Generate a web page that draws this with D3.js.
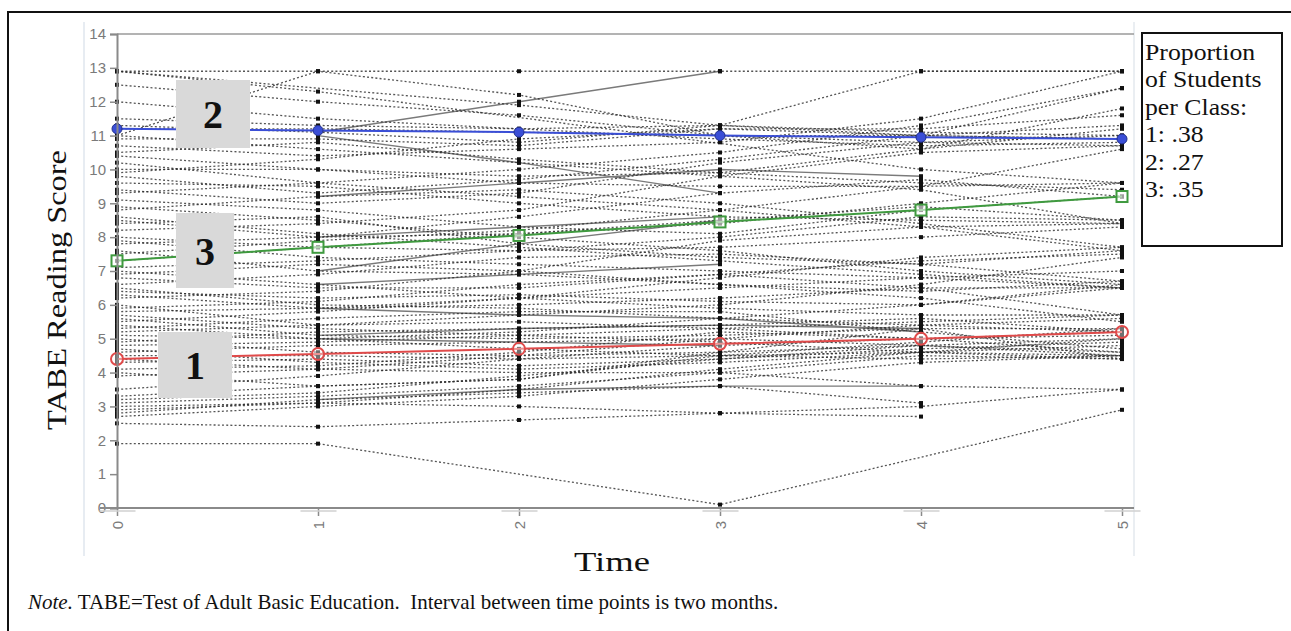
<!DOCTYPE html>
<html><head><meta charset="utf-8">
<script src="https://cdnjs.cloudflare.com/ajax/libs/d3/7.8.5/d3.min.js"></script>
<style>body{margin:0;background:#fff;} svg{display:block;} text{white-space:pre;}</style>
</head><body>
<svg id="chart" width="1291" height="631"></svg>
<script>
// ---- data ----
const timePoints = [0, 1, 2, 3, 4, 5];
const yTicks = [0,1,2,3,4,5,6,7,8,9,10,11,12,13,14];
// individual student trajectories (dotted), null = missing wave
const studentsDotted = [
  [12.9,12.9,12.9,12.9,12.9,12.9],
  [12.9,null,11.9,11.3,11.0,10.9],
  [11.0,12.9,12.2,11.0,10.6,11.2],
  [11.2,11.2,11.1,11.0,11.0,10.9],
  [11.3,11.1,10.8,11.3,12.9,12.9],
  [10.9,10.9,10.7,11.2,11.0,12.4],
  [10.4,10.0,9.8,9.9,10.6,11.8],
  [10.0,10.0,9.6,9.5,9.5,9.6],
  [9.8,9.3,9.7,10.3,11.0,11.3],
  [9.6,9.5,9.0,8.6,8.5,8.4],
  [9.1,8.8,8.3,8.1,8.8,9.2],
  [8.8,9.2,9.4,9.0,8.4,7.7],
  [8.5,8.0,8.1,8.5,8.9,8.5],
  [8.4,8.6,7.8,7.4,7.2,6.7],
  [8.0,7.7,7.6,7.7,8.0,8.3],
  [7.9,7.4,7.2,7.0,6.8,6.5],
  [7.6,7.0,6.9,6.6,6.4,6.7],
  [7.3,7.7,8.1,8.4,9.0,9.6],
  [7.0,6.6,6.2,5.9,5.7,5.7],
  [6.8,6.5,6.5,6.9,7.3,7.5],
  [6.5,6.0,5.9,5.6,5.4,5.2],
  [6.2,6.4,7.0,7.9,8.3,8.4],
  [6.0,5.4,5.5,5.3,5.0,4.6],
  [5.8,5.9,6.0,6.2,6.5,6.5],
  [5.6,5.1,5.0,5.1,5.3,5.3],
  [5.4,5.0,4.7,4.5,4.4,4.5],
  [5.2,5.4,5.7,6.0,6.6,7.4],
  [5.0,4.6,4.5,4.6,4.8,5.0],
  [4.8,4.9,5.1,5.3,5.5,5.7],
  [4.5,4.5,4.4,4.5,4.6,4.5],
  [4.4,4.1,4.0,4.0,3.6,3.5],
  [4.1,4.2,4.6,5.2,5.0,5.1],
  [4.0,3.6,3.8,4.5,4.9,5.3],
  [3.3,3.6,3.8,4.6,5.3,4.4],
  [3.0,3.1,3.0,2.8,2.7,null],
  [2.8,3.2,3.4,3.6,3.1,null],
  [2.5,2.4,2.6,2.8,3.0,3.5],
  [1.9,1.9,null,0.1,null,2.9],
  [2.7,3.0,3.3,3.8,4.3,4.5],
  [12.9,12.3,null,null,10.0,9.6],
  [11.0,10.6,10.2,9.8,9.4,8.4],
  [10.7,10.4,10.6,10.8,11.5,12.9],
  [9.4,9.0,9.3,10.2,10.8,11.0],
  [8.2,8.4,8.8,9.8,10.5,10.7],
  [7.8,8.0,8.6,9.3,9.7,9.2],
  [7.1,7.3,7.6,8.0,8.6,8.5],
  [6.6,6.9,7.4,7.5,7.2,7.6],
  [6.4,6.2,6.3,6.1,6.0,6.6],
  [5.9,6.1,6.6,6.9,6.5,5.7],
  [5.3,5.6,5.8,5.8,5.2,4.7],
  [4.9,5.2,5.3,5.4,5.6,5.2],
  [4.6,4.8,4.9,5.0,4.8,4.6],
  [4.3,4.4,4.2,4.4,4.7,4.9],
  [3.5,3.9,4.4,4.8,5.0,5.2],
  [3.1,3.3,3.6,4.0,4.5,4.4],
  [12.0,11.5,11.2,10.9,10.7,10.8],
  [11.5,11.3,11.2,11.3,11.1,11.0],
  [9.9,10.3,10.9,11.2,11.2,11.6],
  [12.5,12.0,11.6,11.0,10.8,10.7],
  [10.2,9.6,9.2,8.8,8.3,7.6],
  [9.3,9.6,10.0,10.5,11.3,12.4],
  [8.6,8.1,7.7,7.3,6.9,6.5],
  [7.5,7.9,8.2,8.8,9.5,10.6],
  [6.9,7.2,7.0,6.6,6.2,5.5],
  [6.3,5.9,6.2,6.8,7.4,7.7],
  [5.7,5.3,5.1,4.9,4.6,4.4],
  [5.5,5.8,6.2,6.5,6.8,7.0],
  [5.1,5.0,5.2,5.6,6.0,6.5],
  [4.7,4.3,4.1,4.3,4.6,4.8],
  [3.9,4.1,4.5,5.0,5.4,5.6],
  [3.2,3.4,3.9,4.4,4.8,4.5],
  [2.9,3.1,3.5,4.1,4.6,5.0],
  [8.9,8.5,8.0,7.6,7.0,6.6],
  [10.5,10.8,10.3,9.9,9.6,9.4]
];
// individual trajectories drawn solid
const studentsSolid = [
  [null,11.1,12.0,12.9,null,null],
  [null,11.0,10.2,9.3,null,null],
  [null,9.2,9.6,10.0,9.8,null],
  [null,7.0,7.8,8.5,null,null],
  [null,6.6,6.9,7.2,null,null],
  [null,5.1,5.3,5.4,5.3,null],
  [null,5.0,4.9,4.8,null,null],
  [null,3.2,3.5,3.6,3.6,null],
  [null,5.9,5.7,5.6,5.2,null],
  [null,8.0,8.3,8.6,null,null]
];
// class mean trajectories
const class1Means = [4.4, 4.55, 4.7, 4.85, 5.0, 5.2];
const class2Means = [11.2, 11.15, 11.1, 11.0, 10.95, 10.9];
const class3Means = [7.3, 7.7, 8.05, 8.45, 8.8, 9.2];
const classLabels = ["1", "2", "3"];
const legendLines = ["Proportion", "of Students", "per Class:", "1: .38", "2: .27", "3: .35"];
const xTitle = "Time";
const yTitle = "TABE Reading Score";
const noteLabel = "Note.";
const noteText = " TABE=Test of Adult Basic Education.  Interval between time points is two months.";

// ---- drawing ----
const svg = d3.select("#chart");
const x = d3.scaleLinear().domain([0, 5]).range([117, 1122]);
const y = d3.scaleLinear().domain([0, 14]).range([508, 34]);
const serif = "'Liberation Serif','Times New Roman',serif";
const sans = "'Liberation Sans',Arial,sans-serif";

// outer frame
svg.append("rect").attr("x", 8).attr("y", 12).attr("width", 1300).attr("height", 700)
  .attr("fill", "none").attr("stroke", "#111").attr("stroke-width", 2);

// faint panel lines
svg.append("line").attr("x1", 84).attr("x2", 84).attr("y1", 22).attr("y2", 556)
  .attr("stroke", "#dfe6ee").attr("stroke-width", 1.5);
svg.append("line").attr("x1", 1134).attr("x2", 1134).attr("y1", 22).attr("y2", 556)
  .attr("stroke", "#e3e8ee").attr("stroke-width", 1.5);
// top border of plot
svg.append("line").attr("x1", 117).attr("x2", 1134).attr("y1", y(14)).attr("y2", y(14))
  .attr("stroke", "#9a9a9a").attr("stroke-width", 1.5);

const line = d3.line().x(d => x(d.t)).y(d => y(d.v));
const toPts = arr => arr.map((v, i) => ({t: timePoints[i], v})).filter(d => d.v !== null);

const gInd = svg.append("g");
gInd.selectAll("path.solid").data(studentsSolid).join("path")
  .attr("class", "solid").attr("d", d => line(toPts(d)))
  .attr("fill", "none").attr("stroke", "#7a7a7a").attr("stroke-width", 1.4);
gInd.selectAll("path.dot").data(studentsDotted).join("path")
  .attr("class", "dot").attr("d", d => line(toPts(d)))
  .attr("fill", "none").attr("stroke", "#2a2a2a").attr("stroke-width", 1.3)
  .attr("stroke-dasharray", "2,2.2").attr("opacity", 0.8);
const allPts = studentsDotted.concat(studentsSolid).flatMap(toPts);
gInd.selectAll("rect.pt").data(allPts).join("rect")
  .attr("class", "pt").attr("x", d => x(d.t) - 2).attr("y", d => y(d.v) - 2)
  .attr("width", 4).attr("height", 4).attr("fill", "#111");

// class label boxes
const labelBoxes = [
  {lab: classLabels[1], x0: 176, x1: 250, y0: 80, y1: 148},
  {lab: classLabels[2], x0: 176, x1: 234, y0: 213, y1: 288},
  {lab: classLabels[0], x0: 158, x1: 232, y0: 332, y1: 398}
];

// class mean lines
const classes = [
  {vals: class1Means, color: "#e04a4a", shape: "circle"},
  {vals: class2Means, color: "#3a4ed6", shape: "dot"},
  {vals: class3Means, color: "#3f9a3f", shape: "square"}
];
const gMean = svg.append("g");
classes.forEach(c => {
  const pts = toPts(c.vals);
  gMean.append("path").attr("d", line(pts)).attr("fill", "none")
    .attr("stroke", c.color).attr("stroke-width", 2);
  const m = gMean.selectAll(null).data(pts).join(c.shape === "square" ? "rect" : "circle");
  if (c.shape === "square") {
    m.attr("x", d => x(d.t) - 5.5).attr("y", d => y(d.v) - 5.5).attr("width", 11).attr("height", 11)
      .attr("fill", "#fff").attr("fill-opacity", 0.6).attr("stroke", c.color).attr("stroke-width", 2);
  } else if (c.shape === "circle") {
    m.attr("cx", d => x(d.t)).attr("cy", d => y(d.v)).attr("r", 6)
      .attr("fill", "#fff").attr("fill-opacity", 0.4).attr("stroke", c.color).attr("stroke-width", 2);
  } else {
    m.attr("cx", d => x(d.t)).attr("cy", d => y(d.v)).attr("r", 5)
      .attr("fill", c.color).attr("stroke", "#22308a").attr("stroke-width", 1);
  }
});

labelBoxes.forEach(b => {
  svg.append("rect").attr("x", b.x0).attr("y", b.y0).attr("width", b.x1 - b.x0).attr("height", b.y1 - b.y0)
    .attr("fill", "#d9d9d9");
  svg.append("text").attr("x", (b.x0 + b.x1) / 2).attr("y", (b.y0 + b.y1) / 2 + 14)
    .attr("text-anchor", "middle").attr("font-family", serif).attr("font-weight", "bold")
    .attr("font-size", 40).attr("fill", "#111").text(b.lab);
});

// y axis
const yAxis = svg.append("g").attr("transform", "translate(117,0)")
  .call(d3.axisLeft(y).tickValues(yTicks).tickSize(7).tickPadding(4));
yAxis.select(".domain").attr("stroke", "#8a8a8a").attr("stroke-width", 2);
yAxis.selectAll(".tick line").attr("stroke", "#8a8a8a").attr("stroke-width", 1.5);
yAxis.selectAll(".tick text").attr("font-family", sans).attr("font-size", 15).attr("fill", "#7a7a7a");

// x axis
const xAxis = svg.append("g").attr("transform", "translate(0,508)")
  .call(d3.axisBottom(x).tickValues(timePoints).tickFormat(d3.format("d")).tickSize(8).tickPadding(4));
xAxis.select(".domain").attr("stroke", "#8a8a8a").attr("stroke-width", 2).attr("d", "M100,0H1134");
xAxis.selectAll(".tick line").attr("stroke", "#8a8a8a").attr("stroke-width", 1.5);
xAxis.selectAll(".tick").append("line").attr("x1", -18).attr("x2", 18).attr("y1", 3).attr("y2", 3)
  .attr("stroke", "#d0d0d0").attr("stroke-width", 1.5);
xAxis.selectAll(".tick text").attr("font-family", sans).attr("font-size", 15).attr("fill", "#7a7a7a")
  .attr("transform", "translate(0,17) rotate(-90)").attr("text-anchor", "middle").attr("dy", "0.35em").attr("y", 0);

// axis titles
svg.append("text").attr("x", 612).attr("y", 571).attr("text-anchor", "middle")
  .attr("font-family", serif).attr("font-size", 28).attr("textLength", 76).attr("lengthAdjust", "spacingAndGlyphs")
  .attr("fill", "#111").text(xTitle);
svg.append("text").attr("transform", "translate(66,290) rotate(-90)").attr("text-anchor", "middle")
  .attr("font-family", serif).attr("font-size", 28).attr("textLength", 280).attr("lengthAdjust", "spacingAndGlyphs")
  .attr("fill", "#111").text(yTitle);

// note
const note = svg.append("text").attr("x", 28).attr("y", 609).attr("font-family", serif)
  .attr("font-size", 21).attr("fill", "#111").attr("xml:space", "preserve");
note.append("tspan").attr("font-style", "italic").text(noteLabel);
note.append("tspan").text(noteText);

// legend box
svg.append("rect").attr("x", 1142).attr("y", 33).attr("width", 140).attr("height", 213)
  .attr("fill", "#fff").attr("stroke", "#111").attr("stroke-width", 2);
svg.append("g").attr("transform", "translate(1145,0) scale(1.12,1)")
  .append("text").attr("font-family", serif).attr("font-size", 23).attr("fill", "#111")
  .selectAll("tspan").data(legendLines).join("tspan")
  .attr("x", 0).attr("y", (d, i) => 60 + i * 27.5).text(d => d);
</script>
</body></html>
